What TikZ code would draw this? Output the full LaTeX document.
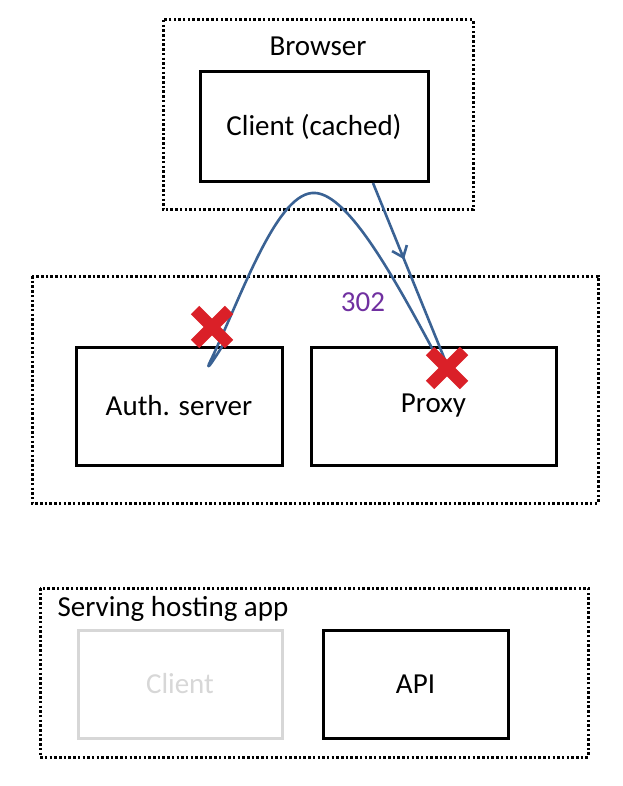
\documentclass[tikz,border=0pt]{standalone}
\usepackage{fontspec}
\setmainfont{Carlito}
\usetikzlibrary{decorations.markings}
\definecolor{flow}{RGB}{58,98,148}
\definecolor{xred}{RGB}{218,32,40}
\definecolor{num}{RGB}{112,48,160}
\definecolor{faint}{RGB}{215,215,215}
\begin{document}
\begin{tikzpicture}[x=1pt,y=-1pt,
  lbl/.style={font=\fontsize{29}{34}\selectfont},
  group/.style={draw,line width=3pt,dash pattern=on 2.5pt off 2.2pt},
  box/.style={draw,line width=3pt,lbl},
  flowline/.style={flow,line width=2.6pt},
  cross/.style={xred,line width=12pt}]
\useasboundingbox (0,0) rectangle (622,786);
% groups
\draw[group] (163,20) rectangle (473,210);
\node[lbl] (browser) at (318,46) {Browser};
\draw[group] (32,276) rectangle (598,503);
\draw[group] (40,588) rectangle (588,757);
\node[lbl,anchor=west] (serving) at (54,609) {Serving hosting app};
% boxes
\node[box] (client) at (314,127) [minimum width=228pt,minimum height=110pt] {Client (cached)};
\node[box] (auth) at (179,406) [minimum width=206pt,minimum height=118pt] {Auth. server};
\node[box] (proxy) at (433.5,406) [minimum width=245pt,minimum height=118pt] {Proxy};
\node[box,draw=faint,text=faint] (gclient) at (180,684) [minimum width=204pt,minimum height=108pt] {Client};
\node[box] (api) at (415.5,684) [minimum width=185pt,minimum height=108pt] {API};
\node[num,lbl] (code) at (363,302) {302};
% flow
\coordinate (s1) at (373,183);
\coordinate (e1) at (445,360);
\coordinate (peak) at (312,193);
\coordinate (p1) at (433,350);
\coordinate (tip) at (209,364);
\coordinate (hook) at (228,337);
\draw[flowline,postaction={decorate},decoration={markings,mark=at position 0.42 with {\draw[flow,line width=2.6pt] (-10pt,-8pt) -- (0,0) -- (-10pt,8pt);}}] (s1) -- (e1);
\draw[flowline,line join=round] (p1) .. controls (390,270) and (345,190) .. (peak)
  .. controls (275,196) and (240,300) .. (tip) .. controls (206,372) and (215,358) .. (hook);
% crosses
\draw[cross] (195,310) -- (229,344) (229,310) -- (195,344);
\draw[cross] (430,351) -- (464,385) (464,351) -- (430,385);
\end{tikzpicture}
\end{document}
